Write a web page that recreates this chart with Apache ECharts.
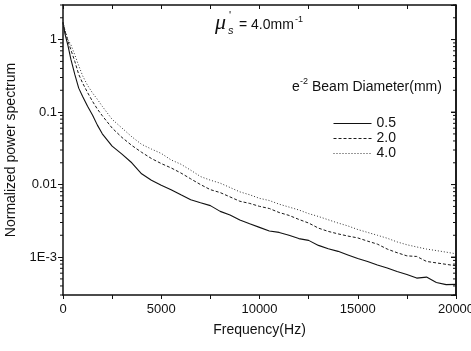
<!DOCTYPE html>
<html>
<head>
<meta charset="utf-8">
<script src="https://cdn.jsdelivr.net/npm/echarts@6/dist/echarts.min.js"></script>
<style>html,body{margin:0;padding:0;background:#fff}#c{width:471px;height:351px}</style>
</head>
<body>
<div id="c"></div>
<script>
const freq = [0,100,250,400,600,800,1000,1250,1500,1750,2000,2500,3000,3500,4000,4500,
  5000,5500,6000,6500,7000,7500,8000,8500,9000,9500,10000,10500,11000,11500,12000,12500,
  13000,13500,14000,14500,15000,15500,16000,16500,17000,17500,18000,18500,19000,19500,20000];
const beam05 = [1.73,1.20,0.832,0.537,0.331,0.214,0.164,0.120,0.0912,0.0661,0.0501,0.0339,0.0263,0.0200,0.0141,0.0115,
  0.00977,0.00851,0.00724,0.00617,0.00562,0.00513,0.00427,0.00380,0.00324,0.00288,0.00257,0.00229,0.00219,0.00200,0.00180,0.00170,
  0.00145,0.00130,0.00120,0.00107,0.000955,0.000871,0.000776,0.000708,0.000631,0.000575,0.000513,0.000530,0.000447,0.000417,0.000420];
const beam20 = [1.73,1.318,0.955,0.724,0.501,0.331,0.251,0.186,0.141,0.110,0.0891,0.0603,0.0447,0.0347,0.0279,0.0229,
  0.0195,0.0170,0.01445,0.0120,0.0100,0.00851,0.00776,0.00676,0.00589,0.00550,0.00501,0.00468,0.00412,0.00376,0.00331,0.00295,
  0.00251,0.00226,0.00209,0.00195,0.00184,0.00166,0.00151,0.00129,0.00115,0.00104,0.00102,0.000871,0.000832,0.000794,0.000759];
const beam40 = [1.73,1.349,1.0,0.851,0.617,0.437,0.316,0.234,0.184,0.150,0.120,0.0794,0.0603,0.0457,0.0359,0.0309,
  0.0269,0.0219,0.0191,0.0158,0.0129,0.0115,0.01047,0.00912,0.00794,0.00724,0.00646,0.00603,0.00537,0.00490,0.00447,0.00398,
  0.00363,0.00327,0.00295,0.00269,0.00240,0.00219,0.00200,0.00182,0.00162,0.00148,0.00138,0.00129,0.00123,0.00117,0.00111];
const seriesNames = ['0.5','2.0','4.0'];
const yTickLabels = {'-3':'1E-3','-2':'0.01','-1':'0.1','0':'1'};
const yMin = 3e-4, yMax = 3, xMax = 20000;

const FONT = 'Liberation Sans, Arial, sans-serif';
const INK = '#111';
const chart = echarts.init(document.getElementById('c'), null, {renderer:'canvas'});

function yLabel(v){
  const e = Math.round(Math.log10(v));
  if (Math.abs(Math.log10(v) - e) > 1e-6) return '';
  return yTickLabels[String(e)] || '';
}
const dashes = {solid:'solid', dash:[3,2], dot:[1,2]};
const mkSeries = (name, arr, type, color) => ({
  name, type:'line', showSymbol:false, symbol:'none', animation:false,
  data: freq.map((f,i)=>[f, arr[i]]),
  lineStyle:{color, width: type==='solid'?1.1:1, type: dashes[type]},
  itemStyle:{color}
});

chart.setOption({
  animation:false,
  backgroundColor:'#fff',
  grid:{left:63, right:15, top:5, bottom:56, containLabel:false, outerBoundsMode:'none'},
  xAxis:[{
    type:'value', min:0, max:xMax, interval:2500, position:'bottom',
    axisLine:{show:true, onZero:false, lineStyle:{color:INK, width:1.5}},
    axisTick:{show:true, inside:false, length:4, lineStyle:{color:INK}},
    axisLabel:{color:INK, fontFamily:FONT, fontSize:13, margin:8, hideOverlap:false,
      formatter:v => (v % 5000 === 0 ? String(v) : '')},
    splitLine:{show:false},
    name:'Frequency(Hz)', nameLocation:'middle', nameGap:28,
    nameTextStyle:{color:INK, fontFamily:FONT, fontSize:14}
  },{
    type:'value', min:0, max:xMax, interval:2500, position:'top',
    axisLine:{show:true, onZero:false, lineStyle:{color:INK, width:1.5}},
    axisTick:{show:true, inside:true, length:4, lineStyle:{color:INK}},
    axisLabel:{show:false}, splitLine:{show:false}
  }],
  yAxis:[{
    type:'log', logBase:10, min:yMin, max:yMax, position:'left',
    axisLine:{show:true, onZero:false, lineStyle:{color:INK, width:1.5}},
    axisTick:{show:true, inside:false, length:5, lineStyle:{color:INK}},
    axisLabel:{color:INK, fontFamily:FONT, fontSize:13, margin:6, formatter:yLabel,
      showMinLabel:false, showMaxLabel:false},
    splitLine:{show:false},
    name:'Normalized power spectrum', nameLocation:'middle', nameGap:34,
    nameTextStyle:{color:INK, fontFamily:FONT, fontSize:14}
  },{
    type:'log', logBase:10, min:yMin, max:yMax, position:'right',
    axisLine:{show:true, onZero:false, lineStyle:{color:INK, width:1.5}},
    axisTick:{show:true, inside:true, length:5, lineStyle:{color:INK}},
    axisLabel:{show:false}, splitLine:{show:false}
  }],
  legend:{
    show:true, orient:'vertical', left:328, top:111, itemWidth:38, itemHeight:12, itemGap:0,
    data:seriesNames,
    textStyle:{color:INK, fontFamily:FONT, fontSize:14, lineHeight:15},
    itemStyle:{opacity:0},
    lineStyle:{width:1},
    selectedMode:false
  },
  series:[
    mkSeries(seriesNames[0], beam05, 'solid', '#111'),
    mkSeries(seriesNames[1], beam20, 'dash', '#1a1a1a'),
    mkSeries(seriesNames[2], beam40, 'dot', '#333'),
    {
      name:'frame', type:'line', showSymbol:false, symbol:'none', silent:true, animation:false,
      clip:false, z:5,
      data:[[xMax, yMin], [xMax, yMax]],
      lineStyle:{color:INK, width:1.5, type:'solid'}
    }
  ]
});

function addFrame(){
  const els = [];
  const xl = chart.convertToPixel({xAxisIndex:0}, 0);
  const xr = chart.convertToPixel({xAxisIndex:0}, xMax);
  for (let e=-4; e<=0; e++){
    for (let k=1; k<=9; k++){
      const v = k*Math.pow(10,e);
      if (v < yMin || v > yMax) continue;
      const y = chart.convertToPixel({yAxisIndex:0}, v);
      const len = k === 1 ? 5 : 3;
      els.push({type:'line', shape:{x1:xr-len, y1:y, x2:xr, y2:y}, style:{stroke:INK, lineWidth:1}, silent:true});
      if (k !== 1) els.push({type:'line', shape:{x1:xl-3, y1:y, x2:xl, y2:y}, style:{stroke:INK, lineWidth:1}, silent:true});
    }
  }
  els.push({type:'text', left:215, top:12, style:{text:'μ', font:'italic 22px Liberation Serif, serif', fill:INK}});
  els.push({type:'text', left:229, top:10, style:{text:"'", font:'11px Liberation Sans, sans-serif', fill:INK}});
  els.push({type:'text', left:228, top:25, style:{text:'s', font:'italic 11px Liberation Sans, sans-serif', fill:INK}});
  els.push({type:'text', left:239, top:18, style:{text:'= 4.0mm', font:'14px Liberation Sans, sans-serif', fill:INK}});
  els.push({type:'text', left:295, top:15, style:{text:'-1', font:'9px Liberation Sans, sans-serif', fill:INK}});
  els.push({type:'text', left:292, top:80, style:{text:'e', font:'14px Liberation Sans, sans-serif', fill:INK}});
  els.push({type:'text', left:300, top:77, style:{text:'-2', font:'9px Liberation Sans, sans-serif', fill:INK}});
  els.push({type:'text', left:312, top:80, style:{text:'Beam Diameter(mm)', font:'14px Liberation Sans, sans-serif', fill:INK}});
  chart.setOption({graphic: els});
}
addFrame();
</script>
</body>
</html>
